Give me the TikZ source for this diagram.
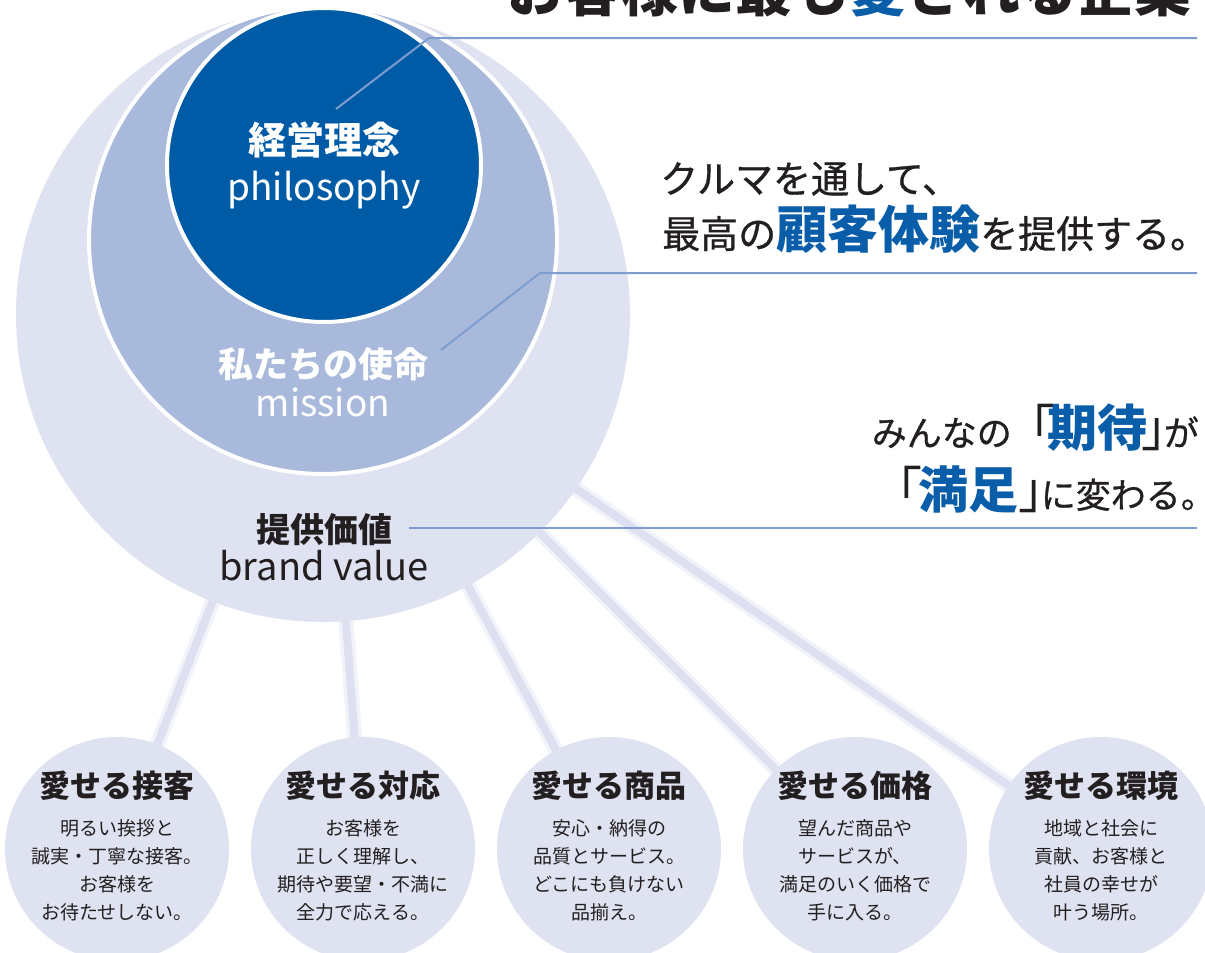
\documentclass[tikz,border=0pt]{standalone}
\usepackage{fontspec}
\setmainfont{Noto Sans CJK JP}
\newfontfamily\medium{Noto Sans CJK JP}[FakeBold=0.8]
\usetikzlibrary{positioning}
\definecolor{philoblue}{HTML}{005BA6}
\definecolor{missionblue}{HTML}{A9B9DB}
\definecolor{valuegray}{HTML}{DFE2F1}
\definecolor{leaderblue}{HTML}{7E9CCD}
\definecolor{textblue}{HTML}{0A5DA8}
\definecolor{inkblack}{HTML}{231F20}
\newcommand{\fs}[2]{\fontsize{#1}{#2}\selectfont}
\newcommand{\hl}[2]{{\normalfont\bfseries\fs{#1}{#1}\color{textblue}#2}}
\newcommand{\kakko}[1]{{\normalfont\fs{50}{50}#1}}
\tikzset{
  ring/.style={circle, inner sep=0pt, minimum size=#1},
  leader/.style={draw=leaderblue, line width=2pt},
  rayglow/.style={line width=15pt, draw=valuegray!40},
  rayline/.style={line width=8pt, draw=valuegray!97!leaderblue},
  loveball/.style={circle, fill=valuegray, inner sep=0pt, minimum size=224pt},
  lovehead/.style={font=\bfseries\fs{31}{31}, text=inkblack, inner sep=0pt, anchor=base},
  lovebody/.style={font=\fs{19}{28}, text=inkblack, align=center, inner sep=0pt, anchor=north},
  headline/.style={font=\medium\fs{38}{38}, text=inkblack, inner sep=0pt},
}
\begin{document}
\begin{tikzpicture}[x=1pt, y=-1pt]
\useasboundingbox (0,0) rectangle (1205,953);
\clip (0,0) rectangle (1205,953);

\coordinate (hub) at (323,315);
\coordinate (b1c) at (117,849);
\coordinate (b2c) at (363,849);
\coordinate (b3c) at (609,849);
\coordinate (b4c) at (855,849);
\coordinate (b5c) at (1101,849);

% rays
\draw[rayglow] (hub) -- (b1c) (hub) -- (b2c) (hub) -- (b3c) (hub) -- (b4c) (hub) -- (b5c);
\draw[rayline] (hub) -- (b1c) (hub) -- (b2c) (hub) -- (b3c) (hub) -- (b4c) (hub) -- (b5c);

% circles
\node[ring=614pt, fill=valuegray] (value) at (hub) {};
\node[ring=468pt, fill=missionblue, draw=white, line width=4pt] (mission) at (323,240) {};
\node[ring=314pt, fill=philoblue, draw=white, line width=4pt] (philo) at (324,165) {};

\node[font=\bfseries\fs{38}{38}, text=white, inner sep=0pt, anchor=base] (philoname) at (324,154) {経営理念};
\node[font=\fs{37}{37}, text=white, inner sep=0pt, anchor=base] (philoword) at (324,200) {philosophy};
\node[font=\bfseries\fs{35}{35}, text=white, inner sep=0pt, anchor=base] (missionname) at (323,377) {私たちの使命};
\node[font=\fs{37}{37}, text=white, inner sep=0pt, anchor=base] (missionword) at (323,416) {mission};
\node[font=\bfseries\fs{34}{34}, text=inkblack, inner sep=0pt, anchor=base] (valuename) at (324,542) {提供価値};
\node[font=\fs{38}{38}, text=inkblack, inner sep=0pt, anchor=base] (valueword) at (324,580) {brand value};

% right side texts
\node[font=\bfseries\fs{57}{57}, text=inkblack, inner sep=0pt, anchor=base east] (goal) at (1192,11)
  {お客様に最も{\color{textblue}愛}される企業};
\node[headline, anchor=base west] (way1) at (660,193) {クルマを通して、\kern-0.5em};
\node[headline, anchor=base west] (way2) at (662,248) {最高の\hl{51}{顧客体験}を提供する。\kern-0.5em};
\node[font=\medium\fs{35}{35}, text=inkblack, inner sep=0pt, anchor=base east] (wish1) at (1199,446)
  {みんなの\kern-6pt\kakko{「}\kern-8pt\hl{50}{期待}\kern-6pt\kakko{」}\kern-28pt が};
\node[font=\medium\fs{35}{35}, text=inkblack, inner sep=0pt, anchor=base east] (wish2) at (1198,508)
  {\kakko{「}\kern-4pt\hl{50}{満足}\kakko{」}\kern-28pt に変わる。\kern-18pt};

% leaders
\coordinate (philopt) at (336,109);
\coordinate (philobend) at (429,38);
\coordinate (philoend) at (1197,38);
\coordinate (missionpt) at (441,350);
\coordinate (missionbend) at (540,273);
\coordinate (missionend) at (1197,273);
\coordinate (valuept) at (409,528);
\coordinate (valueend) at (1197,528);
\draw[leader] (philopt) -- (philobend) -- (philoend);
\draw[leader] (missionpt) -- (missionbend) -- (missionend);
\draw[leader] (valuept) -- (valueend);

% bottom balls
\node[loveball] (b1) at (b1c) {};
\node[loveball] (b2) at (b2c) {};
\node[loveball] (b3) at (b3c) {};
\node[loveball] (b4) at (b4c) {};
\node[loveball] (b5) at (b5c) {};

\node[lovehead] (h1) at (117,797) {愛せる接客};
\node[lovehead] (h2) at (363,797) {愛せる対応};
\node[lovehead] (h3) at (609,797) {愛せる商品};
\node[lovehead] (h4) at (855,797) {愛せる価格};
\node[lovehead] (h5) at (1101,797) {愛せる環境};

\node[lovebody, below=22pt of h1.base] (t1) {明るい挨拶と\\誠実・丁寧な接客。\\お客様を\\お待たせしない。};
\node[lovebody, below=22pt of h2.base] (t2) {お客様を\\正しく理解し、\\期待や要望・不満に\\全力で応える。};
\node[lovebody, below=22pt of h3.base] (t3) {安心・納得の\\品質とサービス。\\どこにも負けない\\品揃え。};
\node[lovebody, below=22pt of h4.base] (t4) {望んだ商品や\\サービスが、\\満足のいく価格で\\手に入る。};
\node[lovebody, below=22pt of h5.base] (t5) {地域と社会に\\貢献、お客様と\\社員の幸せが\\叶う場所。};
\end{tikzpicture}
\end{document}
